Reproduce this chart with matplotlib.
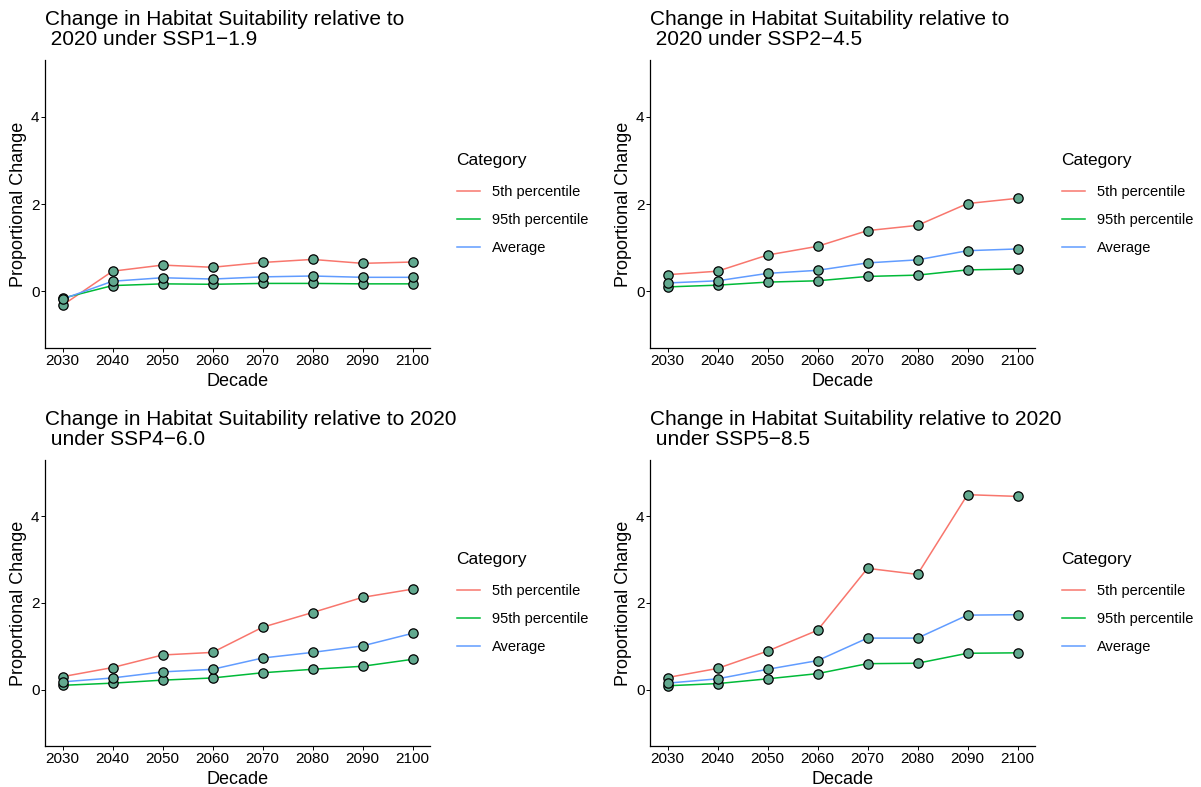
import numpy as np
import matplotlib
matplotlib.use('Agg')
import matplotlib.pyplot as plt
from matplotlib.lines import Line2D

plt.rcParams['font.family'] = ['Liberation Sans', 'DejaVu Sans']

decades = [2030, 2040, 2050, 2060, 2070, 2080, 2090, 2100]
categories = ['5th percentile', '95th percentile', 'Average']
cat_colors = ['#F8766D', '#00BA38', '#619CFF']

titles = ['Change in Habitat Suitability relative to\n 2020 under SSP1\u22121.9',
          'Change in Habitat Suitability relative to\n 2020 under SSP2\u22124.5',
          'Change in Habitat Suitability relative to 2020\n under SSP4\u22126.0',
          'Change in Habitat Suitability relative to 2020\n under SSP5\u22128.5']

# SSP1-1.9
ssp1_p5 = [-0.32, 0.46, 0.60, 0.55, 0.66, 0.73, 0.64, 0.67]
ssp1_p95 = [-0.16, 0.13, 0.17, 0.16, 0.18, 0.18, 0.17, 0.17]
ssp1_avg = [-0.18, 0.23, 0.31, 0.28, 0.33, 0.35, 0.32, 0.32]
# SSP2-4.5
ssp2_p5 = [0.38, 0.46, 0.83, 1.03, 1.39, 1.51, 2.01, 2.13]
ssp2_p95 = [0.10, 0.14, 0.21, 0.24, 0.34, 0.37, 0.49, 0.51]
ssp2_avg = [0.19, 0.24, 0.41, 0.48, 0.65, 0.72, 0.93, 0.97]
# SSP4-6.0
ssp4_p5 = [0.30, 0.51, 0.80, 0.86, 1.44, 1.78, 2.13, 2.32]
ssp4_p95 = [0.10, 0.15, 0.22, 0.27, 0.39, 0.47, 0.54, 0.70]
ssp4_avg = [0.18, 0.27, 0.41, 0.47, 0.73, 0.86, 1.01, 1.30]
# SSP5-8.5
ssp5_p5 = [0.28, 0.49, 0.89, 1.37, 2.80, 2.66, 4.50, 4.46]
ssp5_p95 = [0.09, 0.14, 0.25, 0.37, 0.60, 0.61, 0.84, 0.85]
ssp5_avg = [0.15, 0.25, 0.47, 0.67, 1.19, 1.19, 1.72, 1.73]

panels = [[ssp1_p5, ssp1_p95, ssp1_avg],
          [ssp2_p5, ssp2_p95, ssp2_avg],
          [ssp4_p5, ssp4_p95, ssp4_avg],
          [ssp5_p5, ssp5_p95, ssp5_avg]]

W, H = 1201, 787
fig = plt.figure(figsize=(W/100, H/100), dpi=100)

# panel boxes in pixels: left, top, right, bottom
boxes = [(45, 60, 430, 348), (650, 60, 1035, 348),
         (45, 460, 430, 746), (650, 460, 1035, 746)]

for i in range(4):
    l, t, r, b = boxes[i]
    ax = fig.add_axes([l/W, 1-b/H, (r-l)/W, (b-t)/H])
    handles = []
    for k in range(3):
        ln, = ax.plot(decades, panels[i][k], color=cat_colors[k], lw=1.1, zorder=2)
        handles.append(ln)
    for k in range(3):
        ax.scatter(decades, panels[i][k], s=45, facecolor='#62a98f',
                   edgecolor='black', linewidth=0.9, zorder=3)
    ax.set_xlim(2026.5, 2103.5)
    ax.set_ylim(-1.3, 5.3)
    ax.set_xticks(decades)
    ax.set_yticks([0, 2, 4])
    for s in ['top', 'right']:
        ax.spines[s].set_visible(False)
    for s in ['left', 'bottom']:
        ax.spines[s].set_linewidth(0.9)
    ax.tick_params(labelsize=11, length=3, width=0.7, colors='black', pad=1)
    ax.set_xlabel('Decade', fontsize=13, labelpad=4)
    ax.set_ylabel('Proportional Change', fontsize=13, labelpad=3)
    ax.set_title(titles[i], fontsize=15, loc='left', pad=11, linespacing=1.05)
    leg = ax.legend(handles, categories, title='Category', loc='center left',
                    bbox_to_anchor=(1.035, 0.5), frameon=False, fontsize=10.5,
                    title_fontsize=12.5, handlelength=1.6, labelspacing=0.95,
                    handletextpad=0.8)
    leg._legend_box.align = 'left'
    leg._legend_box.sep = 12

fig.savefig('out.png', dpi=100)
